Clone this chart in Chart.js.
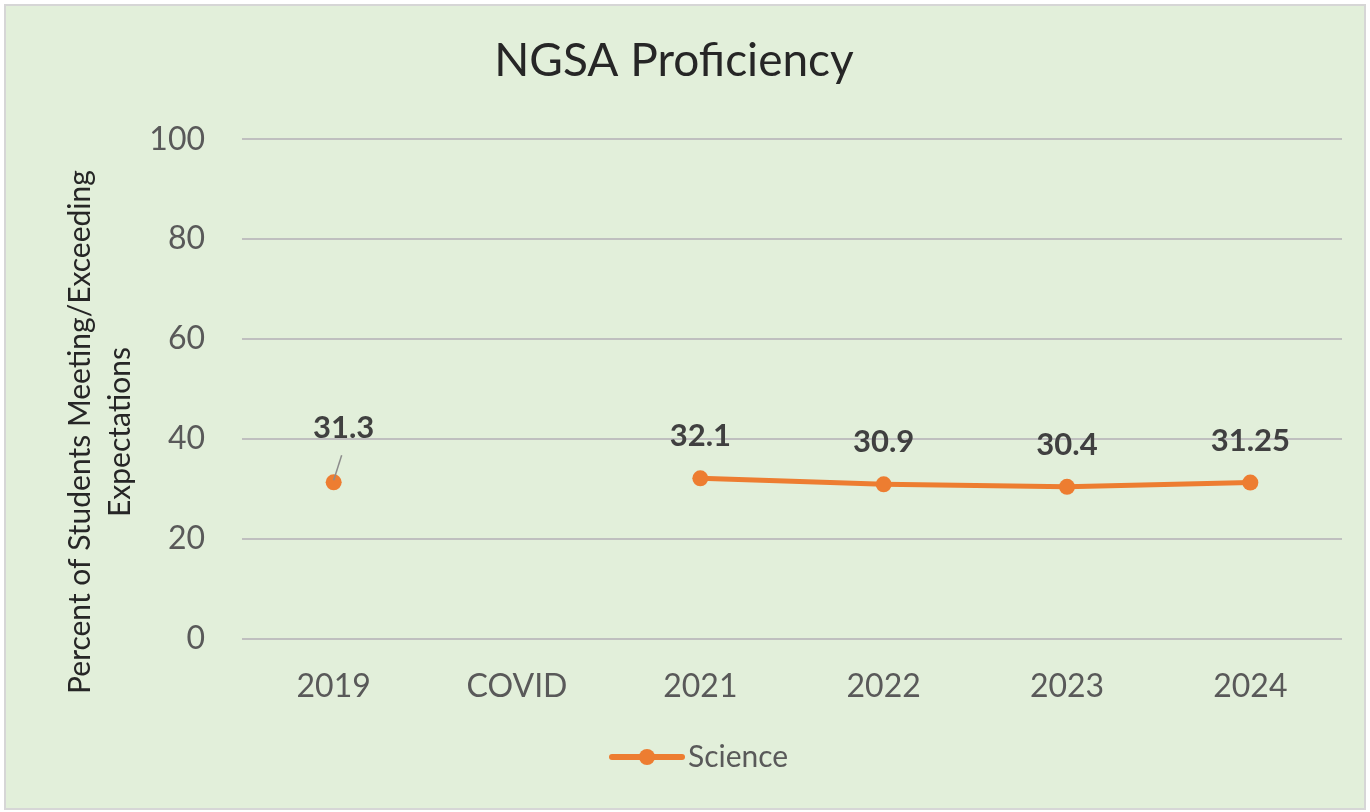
<!DOCTYPE html>
<html>
<head>
<meta charset="utf-8">
<script src="https://cdn.jsdelivr.net/npm/chart.js@4/dist/chart.umd.min.js"></script>
<style>
  html, body { margin: 0; padding: 0; background: #ffffff; }
  #wrap {
    position: absolute; left: 4px; top: 4px; width: 1362px; height: 806px;
    background: #e2efda; border: 2px solid #d6d6d6; box-sizing: border-box;
  }
  #wrap canvas { position: absolute; left: 0; top: 0; }
</style>
</head>
<body>
<div id="wrap"><canvas id="chart" width="1358" height="802"></canvas></div>
<script>
  const categories = ["2019", "COVID", "2021", "2022", "2023", "2024"];
  const science = [31.3, null, 32.1, 30.9, 30.4, 31.25];
  const valueLabels = ["31.3", "", "32.1", "30.9", "30.4", "31.25"];
  const yTitle = ["Percent of Students Meeting/Exceeding", "Expectations"];

  const orange = "#ed7d31";
  const fontFamily = "Lato, 'Open Sans', sans-serif";

  const extras = {
    id: "extras",
    afterDatasetsDraw(chart) {
      const { ctx } = chart;
      const meta = chart.getDatasetMeta(0);
      ctx.save();
      ctx.font = "bold 31px " + fontFamily;
      ctx.fillStyle = "#404040";
      ctx.textAlign = "center";
      ctx.textBaseline = "middle";
      meta.data.forEach((pt, i) => {
        if (science[i] == null) return;
        if (i === 0) {
          // label pulled up with a leader line
          ctx.strokeStyle = "#8c8c8c";
          ctx.lineWidth = 1.5;
          ctx.beginPath();
          ctx.moveTo(pt.x + 8, pt.y - 27);
          ctx.lineTo(pt.x, pt.y - 2);
          ctx.stroke();
          ctx.fillText(valueLabels[i], pt.x + 10, pt.y - 54);
        } else {
          ctx.fillText(valueLabels[i], pt.x, pt.y - 42);
        }
      });

      // y axis title
      ctx.save();
      ctx.font = "30px " + fontFamily;
      ctx.fillStyle = "#262626";
      ctx.translate(74, 426);
      ctx.rotate(-Math.PI / 2);
      ctx.fillText(yTitle[0], 0, 0);
      ctx.fillText(yTitle[1], 0, 40);
      ctx.restore();

      // legend: line with dot, then series name
      const ds = chart.data.datasets[0];
      const lx = chart.width / 2 - 73;
      const ly = 751;
      ctx.strokeStyle = ds.borderColor;
      ctx.lineWidth = 6;
      ctx.lineCap = "round";
      ctx.beginPath();
      ctx.moveTo(lx, ly);
      ctx.lineTo(lx + 70, ly);
      ctx.stroke();
      ctx.fillStyle = ds.borderColor;
      ctx.beginPath();
      ctx.arc(lx + 35, ly, 8, 0, Math.PI * 2);
      ctx.fill();
      ctx.font = "30px " + fontFamily;
      ctx.fillStyle = "#595959";
      ctx.textAlign = "left";
      ctx.fillText(ds.label, lx + 76, ly);
      ctx.restore();
    },
  };

  new Chart(document.getElementById("chart"), {
    type: "line",
    data: {
      labels: categories,
      datasets: [
        {
          label: "Science",
          data: science,
          borderColor: orange,
          backgroundColor: orange,
          borderWidth: 5,
          pointRadius: 8,
          pointHoverRadius: 8,
          pointBorderWidth: 0,
          spanGaps: false,
          tension: 0,
        },
      ],
    },
    options: {
      responsive: false,
      animation: false,
      layout: { padding: { left: 0, right: 22, top: 0, bottom: 81 } },
      plugins: {
        title: {
          display: true,
          text: "NGSA Proficiency",
          color: "#262626",
          font: { family: fontFamily, size: 46, weight: "normal" },
          padding: { top: 28, bottom: 50 },
        },
        legend: { display: false },
        tooltip: { enabled: false },
      },
      scales: {
        x: {
          offset: true,
          grid: { display: false },
          border: { display: false },
          ticks: {
            color: "#595959",
            font: { family: fontFamily, size: 32 },
            padding: 21,
          },
        },
        y: {
          min: 0,
          max: 100,
          afterFit(scale) { scale.width = 236; },
          grid: { color: "#bfbfbf", lineWidth: 2, drawTicks: false },
          border: { display: false },
          ticks: {
            stepSize: 20,
            color: "#595959",
            font: { family: fontFamily, size: 32 },
            padding: 37,
          },
        },
      },
    },
    plugins: [extras],
  });
</script>
</body>
</html>
